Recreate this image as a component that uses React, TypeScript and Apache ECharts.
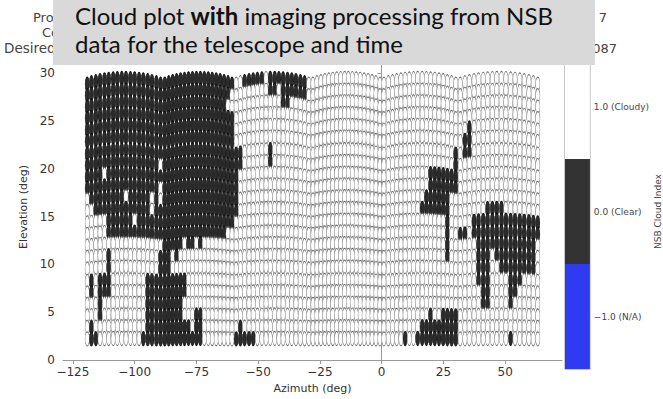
import React, { useEffect, useRef } from "react";
import * as echarts from "echarts";

// Azimuth of each ellipse column (deg), six camera segments of 18 columns
const azimuths: number[] = [
  -119.2, -117.5, -115.7, -114.0, -112.2, -110.5, -108.7, -107.0, -105.2, -103.5, -101.7, -100.0, -98.2, -96.5, -94.7, -93.0, -91.2, -89.5,
  -87.8, -86.2, -84.6, -83.0, -81.4, -79.8, -78.2, -76.6, -75.0, -73.4, -71.8, -70.2, -68.6, -67.0, -65.4, -63.8, -62.2, -60.6,
  -58.9, -57.2, -55.5, -53.7, -52.0, -50.3, -48.5, -46.8, -45.1, -43.3, -41.6, -39.9, -38.1, -36.4, -34.7, -32.9, -31.2, -29.5,
  -27.8, -26.2, -24.6, -23.0, -21.4, -19.8, -18.2, -16.6, -15.0, -13.5, -11.9, -10.3, -8.7, -7.1, -5.5, -3.9, -2.3, -0.7,
  0.9, 2.7, 4.4, 6.1, 7.8, 9.5, 11.2, 12.9, 14.6, 16.4, 18.1, 19.8, 21.5, 23.2, 24.9, 26.6, 28.3, 30.0,
  31.8, 33.7, 35.5, 37.4, 39.2, 41.1, 42.9, 44.8, 46.6, 48.5, 50.3, 52.2, 54.0, 55.9, 57.7, 59.6, 61.4, 63.2,
];

// Elevation of each ellipse row at a segment edge (deg), bottom to top
const elevations: number[] = [
  2.2, 3.4, 4.6, 5.8, 7.0, 8.2, 9.5, 10.7, 11.9, 13.1, 14.3, 15.5,
  16.7, 17.9, 19.1, 20.3, 21.5, 22.8, 24.0, 25.2, 26.4, 27.6, 28.8,
];

// Upward bow of the top row inside one segment (deg), edge to edge
const segmentBow: number[] = [
  0.05, 0.19, 0.31, 0.41, 0.49, 0.55, 0.6, 0.63, 0.65, 0.65, 0.63, 0.6, 0.55, 0.49, 0.41, 0.31, 0.19, 0.05,
];

// Cloud index per ellipse, top row first; "#" = 0.0 (Clear), "." = 1.0 (Cloudy)
const cloudRows: string[] = [
  "################## ################## ..#####.#########. .................. .................. ..................",
  "################## #################. ........##.######. .................. .................. ..................",
  "################## ################.. ...........##..... .................. .................. ..................",
  "################## ################## .................. .................. .................. ..................",
  "################## ################## .................. .................. .................. ..#...............",
  "################## ################## .................. .................. .................. .##...............",
  "################## ################## ##......#......... .................. .................# .##...............",
  "#################. ################## ##......#......... .................. .................# ..................",
  "####.############# ################## #................. .................. ...........####### ..................",
  "#################. ################## #................. .................. ...........####### ..................",
  ".########.#####.#. ################## #................. .................. ..........######.. ..................",
  "..#############.## ################## #................. .................. .........#######.. ......####........",
  ".....######.###### ################## .................. .................. ...............#.. ...###############",
  ".....############# ################.. .................. .................. ...............#.. ##.###############",
  ".................. #####.##.#........ .................. .................. ...............#.. ....#############.",
  ".....#...........# ##.#.............. .................. .................. ...............#.. ....###.#########.",
  ".....#...........# ##................ .................. .................. .................. ....###..########.",
  ".#.###........#### ######............ .................. .................. .................. ....###....###....",
  ".#.###........#### ######............ .................. .................. .................. .....##....##.....",
  "...#..........#### #####............. .................. .................. .................. .....##....#......",
  "...#..........#### #####...##........ .................. .................. ...........#..#### ..................",
  ".#............#### #######.##........ .#................ .................. .........######### ..................",
  ".##..........##### ##########........ #####............. .................. .....#..########## ...........#......",
];

const xTicks: number[] = [-125, -100, -75, -50, -25, 0, 25, 50];
const yTicks: number[] = [0, 5, 10, 15, 20, 25, 30];
const cbLabels: string[] = ["\u22121.0 (N/A)", "0.0 (Clear)", "1.0 (Cloudy)"];
const cbColors: string[] = ["#2f3bf0", "#333333", "#ffffff"];

const minus = (v: number) => String(v).replace("-", "\u2212");

function buildPoints() {
  const pts: any[] = [];
  const nRows = cloudRows.length;
  const topEl = elevations[elevations.length - 1];
  for (let r = 0; r < nRows; r++) {
    const cells = cloudRows[r].replace(/\s+/g, "");
    const el = elevations[nRows - 1 - r];
    for (let c = 0; c < cells.length; c++) {
      const state = cells[c] === "#" ? 0 : 1;
      const bow = (segmentBow[c % segmentBow.length] * el) / topEl;
      pts.push({
        value: [azimuths[c], el + bow, state],
        itemStyle: {
          color: state === 0 ? "#2b2b2b" : "#ffffff",
          borderColor: state === 0 ? "#0e0e0e" : "#6a6a6a",
        },
      });
    }
  }
  return pts;
}

export default function App() {
  const ref = useRef<HTMLDivElement>(null);
  useEffect(() => {
    if (!ref.current) return;
    const chart = echarts.init(ref.current, undefined, { renderer: "svg" });
    const font = "DejaVu Sans";
    const option: any = {
      animation: false,
      backgroundColor: "#ffffff",
      grid: [
        { left: 63, right: 101, top: 54, bottom: 31 },
        {
          left: 565, right: 72, top: 54, bottom: 30,
          show: true, borderColor: "#b8b8b8", borderWidth: 1.5, backgroundColor: "transparent",
        },
      ],
      xAxis: [
        {
          type: "value", gridIndex: 0, min: -129, max: 73,
          name: "Azimuth (deg)", nameLocation: "middle", nameGap: 23,
          nameTextStyle: { fontSize: 11, color: "#333", fontFamily: font },
          axisLine: { show: true, onZero: false, lineStyle: { color: "#9a9a9a", width: 1 } },
          axisTick: { show: true, length: 4, customValues: xTicks, lineStyle: { color: "#9a9a9a" } },
          axisLabel: { customValues: xTicks, formatter: minus, fontSize: 12, color: "#333", margin: 6, fontFamily: font },
          splitLine: { show: false },
        },
        { type: "value", gridIndex: 1, min: 0, max: 1, show: false },
      ],
      yAxis: [
        {
          type: "value", gridIndex: 0, min: 0, max: 32,
          name: "Elevation (deg)", nameLocation: "middle", nameGap: 26, nameRotate: 90,
          nameTextStyle: { fontSize: 11, color: "#333", fontFamily: font },
          axisLine: { show: true, lineStyle: { color: "#9a9a9a", width: 1 } },
          axisTick: { show: true, length: 4, customValues: yTicks, lineStyle: { color: "#9a9a9a" } },
          axisLabel: { customValues: yTicks, fontSize: 12, color: "#333", margin: 8, fontFamily: font },
          splitLine: { show: false },
        },
        {
          type: "category", gridIndex: 1, data: cbLabels, position: "right",
          name: "NSB Cloud Index", nameLocation: "middle", nameRotate: 90, nameGap: 62,
          nameTextStyle: { fontSize: 9, color: "#444", fontFamily: font },
          axisLine: { show: false },
          axisTick: { show: true, length: 3, alignWithLabel: true, lineStyle: { color: "#888" } },
          axisLabel: { fontSize: 9, color: "#444", margin: 4, fontFamily: font },
          splitLine: { show: false },
        },
      ],
      series: [
        {
          type: "scatter", xAxisIndex: 0, yAxisIndex: 0,
          symbol: "circle", symbolSize: [4.3, 14],
          itemStyle: { borderWidth: 0.65, opacity: 1 },
          data: buildPoints(), silent: true, progressive: 0,
          emphasis: { disabled: true },
        },
        {
          type: "bar", xAxisIndex: 1, yAxisIndex: 1, barWidth: "100%",
          data: cbColors.map((col) => ({ value: 1, itemStyle: { color: col } })),
          silent: true,
        },
      ],
      graphic: [
        { type: "text", z: 50, x: 33, y: 17, style: { text: "Proc", fill: "#444", font: `13px "${font}"`, verticalAlign: "middle", textVerticalAlign: "middle" } },
        { type: "text", z: 50, x: 42, y: 32, style: { text: "Co", fill: "#444", font: `13px "${font}"`, verticalAlign: "middle", textVerticalAlign: "middle" } },
        { type: "text", z: 50, x: 4, y: 48, style: { text: "Desired", fill: "#444", font: `13.5px "${font}"`, verticalAlign: "middle", textVerticalAlign: "middle" } },
        { type: "text", z: 50, x: 607, y: 17, style: { text: "7", fill: "#444", font: `13px "${font}"`, align: "right", textAlign: "right", verticalAlign: "middle", textVerticalAlign: "middle" } },
        { type: "text", z: 50, x: 617, y: 48, style: { text: "087", fill: "#444", font: `13px "${font}"`, align: "right", textAlign: "right", verticalAlign: "middle", textVerticalAlign: "middle" } },
        { type: "rect", z: 100, shape: { x: 53, y: -5, width: 542, height: 70 }, style: { fill: "#d9d9d9" } },
        {
          type: "text", z: 110, x: 75, y: 15,
          style: {
            text: "{n|Cloud plot }{b|with}{n| imaging processing from NSB}",
            rich: {
              n: { fontSize: 24, fontFamily: "Lato", fill: "#111", color: "#111" },
              b: { fontSize: 24, fontFamily: "Lato", fontWeight: "bold", fill: "#111", color: "#111" },
            },
            verticalAlign: "middle", textVerticalAlign: "middle",
          },
        },
        {
          type: "text", z: 110, x: 75, y: 43,
          style: { text: "data for the telescope and time", fill: "#111", font: `24px "Lato"`, verticalAlign: "middle", textVerticalAlign: "middle" },
        },
      ],
    };
    chart.setOption(option);
    return () => chart.dispose();
  }, []);
  return <div ref={ref} style={{ width: 663, height: 399, position: "absolute", left: 0, top: 0 }} />;
}
